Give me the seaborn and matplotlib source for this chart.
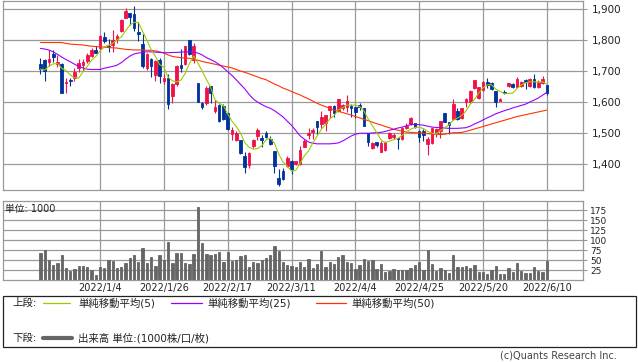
import numpy as np
import pandas as pd
import matplotlib
matplotlib.use("Agg")
import matplotlib.pyplot as plt
from matplotlib.lines import Line2D
from matplotlib.patches import Rectangle
import seaborn as sns

# daily candles, one per trading day (2021/12/14 .. 2022/6/10)
open_ = [1722, 1736, 1729, 1754, 1723, 1723, 1660, 1671, 1676, 1709,
         1719, 1732, 1748, 1768, 1773, 1809, 1782, 1784, 1803, 1829,
         1872, 1886, 1884, 1827, 1787, 1709, 1738, 1687, 1735, 1669,
         1676, 1619, 1657, 1719, 1722, 1800, 1735, 1660, 1598, 1598,
         1652, 1571, 1590, 1588, 1563, 1497, 1477, 1477, 1426, 1397,
         1458, 1490, 1483, 1499, 1480, 1442, 1356, 1378, 1394, 1410,
         1399, 1399, 1456, 1494, 1504, 1539, 1529, 1531, 1574, 1587,
         1572, 1580, 1585, 1587, 1583, 1590, 1580, 1499, 1453, 1470,
         1440, 1445, 1483, 1488, 1483, 1480, 1515, 1529, 1531, 1507,
         1507, 1464, 1467, 1499, 1507, 1563, 1534, 1545, 1571, 1547,
         1599, 1601, 1644, 1612, 1639, 1666, 1660, 1635, 1604, 1633,
         1652, 1658, 1650, 1652, 1671, 1652, 1674, 1650, 1660, 1655]
high = [1741, 1738, 1768, 1768, 1752, 1725, 1678, 1678, 1709, 1739,
        1739, 1759, 1773, 1782, 1815, 1826, 1803, 1832, 1821, 1867,
        1903, 1888, 1910, 1857, 1821, 1757, 1741, 1735, 1741, 1690,
        1692, 1660, 1719, 1770, 1782, 1801, 1789, 1661, 1599, 1652,
        1653, 1606, 1594, 1594, 1566, 1518, 1508, 1478, 1440, 1440,
        1480, 1517, 1494, 1507, 1490, 1443, 1384, 1386, 1427, 1413,
        1409, 1458, 1480, 1515, 1515, 1540, 1571, 1559, 1588, 1590,
        1610, 1594, 1623, 1592, 1585, 1598, 1581, 1500, 1472, 1471,
        1474, 1474, 1504, 1499, 1484, 1520, 1531, 1551, 1533, 1510,
        1512, 1488, 1517, 1515, 1540, 1564, 1537, 1610, 1580, 1582,
        1612, 1639, 1672, 1648, 1668, 1676, 1666, 1636, 1614, 1639,
        1661, 1660, 1680, 1667, 1674, 1676, 1690, 1671, 1685, 1656]
low = [1692, 1669, 1717, 1730, 1714, 1628, 1630, 1652, 1669, 1698,
       1700, 1727, 1744, 1757, 1768, 1792, 1762, 1762, 1789, 1827,
       1870, 1848, 1830, 1798, 1709, 1703, 1682, 1668, 1662, 1657,
       1576, 1596, 1652, 1698, 1719, 1752, 1725, 1599, 1577, 1590,
       1596, 1566, 1537, 1542, 1510, 1477, 1475, 1432, 1372, 1388,
       1451, 1477, 1456, 1483, 1461, 1370, 1330, 1349, 1391, 1367,
       1397, 1397, 1454, 1480, 1480, 1497, 1515, 1508, 1547, 1550,
       1569, 1574, 1569, 1551, 1547, 1574, 1522, 1458, 1448, 1456,
       1439, 1443, 1480, 1480, 1448, 1477, 1513, 1526, 1515, 1472,
       1474, 1429, 1465, 1486, 1483, 1534, 1497, 1542, 1542, 1544,
       1585, 1598, 1641, 1610, 1637, 1644, 1639, 1583, 1603, 1625,
       1650, 1644, 1647, 1650, 1642, 1647, 1646, 1646, 1658, 1623]
close = [1706, 1701, 1739, 1746, 1729, 1630, 1666, 1667, 1698, 1727,
         1730, 1752, 1768, 1759, 1813, 1798, 1777, 1800, 1813, 1864,
         1893, 1873, 1840, 1818, 1717, 1754, 1717, 1732, 1684, 1676,
         1592, 1658, 1716, 1711, 1781, 1754, 1781, 1601, 1583, 1644,
         1628, 1583, 1540, 1545, 1513, 1510, 1499, 1434, 1391, 1437,
         1477, 1510, 1477, 1488, 1465, 1395, 1335, 1352, 1418, 1384,
         1408, 1445, 1475, 1499, 1510, 1520, 1553, 1558, 1587, 1563,
         1609, 1590, 1603, 1580, 1569, 1585, 1523, 1472, 1469, 1461,
         1467, 1472, 1499, 1494, 1481, 1517, 1524, 1547, 1520, 1486,
         1494, 1480, 1515, 1512, 1539, 1537, 1526, 1594, 1545, 1580,
         1609, 1637, 1671, 1647, 1666, 1655, 1641, 1599, 1610, 1628,
         1660, 1647, 1673, 1666, 1666, 1674, 1647, 1666, 1673, 1628]

# 25 / 50 day moving averages as drawn (need history before the window)
ma25 = [1773, 1771, 1768, 1762, 1754, 1745, 1737, 1730, 1722, 1715,
        1710, 1706, 1705, 1705, 1705, 1709, 1712, 1715, 1719, 1727,
        1738, 1748, 1755, 1758, 1760, 1762, 1762, 1761, 1760, 1759,
        1759, 1760, 1760, 1761, 1762, 1762, 1761, 1758, 1752, 1743,
        1737, 1730, 1721, 1710, 1698, 1686, 1672, 1657, 1643, 1625,
        1610, 1600, 1592, 1585, 1580, 1572, 1562, 1552, 1538, 1525,
        1508, 1491, 1480, 1471, 1467, 1465, 1465, 1465, 1465, 1466,
        1468, 1474, 1482, 1490, 1496, 1499, 1499, 1499, 1500, 1501,
        1502, 1505, 1509, 1512, 1516, 1519, 1523, 1527, 1528, 1527,
        1525, 1522, 1519, 1518, 1517, 1516, 1515, 1515, 1515, 1516,
        1517, 1522, 1529, 1535, 1542, 1549, 1555, 1562, 1567, 1572,
        1576, 1581, 1585, 1589, 1593, 1600, 1606, 1613, 1622, 1631]
ma50 = [1792, 1792, 1792, 1792, 1792, 1792, 1789, 1787, 1786, 1785,
        1784, 1782, 1780, 1779, 1778, 1777, 1776, 1775, 1774, 1772,
        1770, 1769, 1768, 1768, 1768, 1767, 1767, 1765, 1762, 1758,
        1752, 1747, 1745, 1743, 1742, 1741, 1738, 1735, 1731, 1728,
        1725, 1722, 1719, 1716, 1713, 1710, 1705, 1700, 1696, 1691,
        1686, 1681, 1676, 1672, 1665, 1658, 1652, 1645, 1640, 1634,
        1628, 1623, 1616, 1610, 1603, 1596, 1590, 1585, 1580, 1574,
        1570, 1566, 1562, 1558, 1553, 1549, 1544, 1540, 1535, 1530,
        1526, 1521, 1517, 1512, 1509, 1506, 1503, 1502, 1501, 1500,
        1499, 1498, 1497, 1496, 1495, 1496, 1499, 1501, 1501, 1502,
        1505, 1509, 1513, 1517, 1521, 1525, 1529, 1533, 1537, 1541,
        1545, 1549, 1553, 1556, 1559, 1562, 1565, 1568, 1571, 1574]

# volume, unit 1000
volume = [67, 75, 50, 37.5, 42, 62.5, 31, 23, 27.5, 35,
          35, 33, 25, 12.5, 33, 31, 50, 48, 31, 33,
          43, 56, 62.5, 46, 81, 43, 58, 36, 62.5, 50,
          96, 43, 68, 68, 43, 40, 65, 183, 93, 65,
          62.5, 65, 71, 46, 71, 48, 50, 60, 62.5, 33,
          46, 43, 50, 56, 62.5, 86, 73, 46, 37.5, 35,
          33, 46, 33, 52.5, 31, 40, 72.5, 33, 46, 40,
          58, 62.5, 46, 43, 27.5, 37.5, 52.5, 48, 50, 27.5,
          40, 21, 23, 27.5, 25, 25, 25, 31, 37.5, 46,
          25, 75, 40, 23, 31, 25, 18, 62.5, 33, 33,
          35, 31, 37.5, 21, 21, 15, 25, 35, 15, 15,
          31, 21, 42, 23, 18, 18, 33, 23, 21, 48]

tick_pos = [14, 29, 44, 59, 74, 89, 104, 119]
tick_labels = ["2022/1/4", "2022/1/26", "2022/2/17", "2022/3/11",
               "2022/4/4", "2022/4/25", "2022/5/20", "2022/6/10"]
price_ticks = [1400, 1500, 1600, 1700, 1800, 1900]
vol_ticks = [25, 50, 75, 100, 125, 150, 175]

RED, BLUE = "#f0104a", "#003399"
GRID = "#999999"

df = pd.DataFrame(dict(x=np.arange(len(close)), open=open_, high=high, low=low,
                       close=close, ma25=ma25, ma50=ma50, vol=volume))
df["ma5"] = df["close"].rolling(5, min_periods=1).mean()
df["color"] = np.where(df["close"] >= df["open"], RED, BLUE)

sns.set_style("white")
plt.rcParams["font.family"] = ["DejaVu Sans", "Noto Sans CJK JP"]

W, H = 638, 362
fig = plt.figure(figsize=(W / 100, H / 100), dpi=100)

def box(l, t, r, b):
    return [l / W, 1 - b / H, (r - l) / W, (b - t) / H]

ax = fig.add_axes(box(3, 1, 583, 190))
axv = fig.add_axes(box(3, 201, 583, 280))

# candles
ax.vlines(df["x"], df["low"], df["high"], colors=df["color"], lw=0.8, zorder=2)
body = (df["close"] - df["open"]).abs().clip(lower=1.5)
ax.bar(df["x"], body, bottom=df[["open", "close"]].min(axis=1), width=0.62,
       color=df["color"], edgecolor=df["color"], lw=0.6, zorder=2)

for col, c in [("ma50", "#ff3300"), ("ma25", "#9900ff"), ("ma5", "#99cc00")]:
    sns.lineplot(data=df, x="x", y=col, color=c, lw=0.8, ax=ax, zorder=3)

# volume
sns.barplot(data=df, x="x", y="vol", native_scale=True, color="#666666",
            saturation=1, width=0.55, ax=axv, zorder=2)
for p in axv.patches:
    p.set_edgecolor("#666666")
    p.set_linewidth(0.6)

for a in (ax, axv):
    a.set_xlim(-8.8, 127.5)
    a.set_xticks(tick_pos)
    a.grid(True, color=GRID, lw=0.9)
    a.set_axisbelow(True)
    a.set_xlabel("")
    a.set_ylabel("")
    a.yaxis.tick_right()
    for s in a.spines.values():
        s.set_color(GRID)
        s.set_linewidth(0.9)

ax.set_ylim(1316, 1926)
ax.set_yticks(price_ticks)
ax.set_yticklabels([f"{v:,}" for v in price_ticks])
ax.tick_params(axis="y", length=3, color=GRID, labelsize=7.5, pad=3, labelcolor="#222222")
ax.tick_params(axis="x", length=0, labelbottom=False)

axv.set_ylim(0, 197.5)
axv.set_yticks(vol_ticks)
axv.set_yticklabels([str(v) for v in vol_ticks])
axv.tick_params(axis="y", length=3, color=GRID, labelsize=6.5, pad=2, labelcolor="#222222")
axv.set_xticklabels(tick_labels)
axv.tick_params(axis="x", length=0, labelsize=7, pad=2, labelcolor="#222222")

fig.text(5 / W, 1 - 209 / H, "単位: 1000", fontsize=7, va="center", color="#222222")

# legend box
fig.add_artist(Rectangle((3 / W, 1 - 347 / H), 633 / W, 51 / H, fill=False,
                         edgecolor="#222222", lw=0.9, transform=fig.transFigure))

def seg(x0, x1, y, color, lw):
    fig.add_artist(Line2D([x0 / W, x1 / W], [1 - y / H, 1 - y / H], color=color, lw=lw,
                          transform=fig.transFigure))

def label(x, y, s):
    fig.text(x / W, 1 - y / H, s, fontsize=7.5, va="center", color="#222222")

label(12, 303, "上段:")
seg(43, 70, 303, "#99cc00", 0.9)
label(78, 303, "単純移動平均(5)")
seg(171, 202, 303, "#9900ff", 0.9)
label(207, 303, "単純移動平均(25)")
seg(316, 346, 303, "#ff3300", 0.9)
label(351, 303, "単純移動平均(50)")
label(12, 338, "下段:")
seg(43, 72, 338, "#666666", 3)
label(78, 338, "出来高 単位:(1000株/口/枚)")

fig.text(617 / W, 1 - 356 / H, "(c)Quants Research Inc.", fontsize=7, ha="right",
         va="center", color="#444444")

fig.savefig("out.png", dpi=100)
